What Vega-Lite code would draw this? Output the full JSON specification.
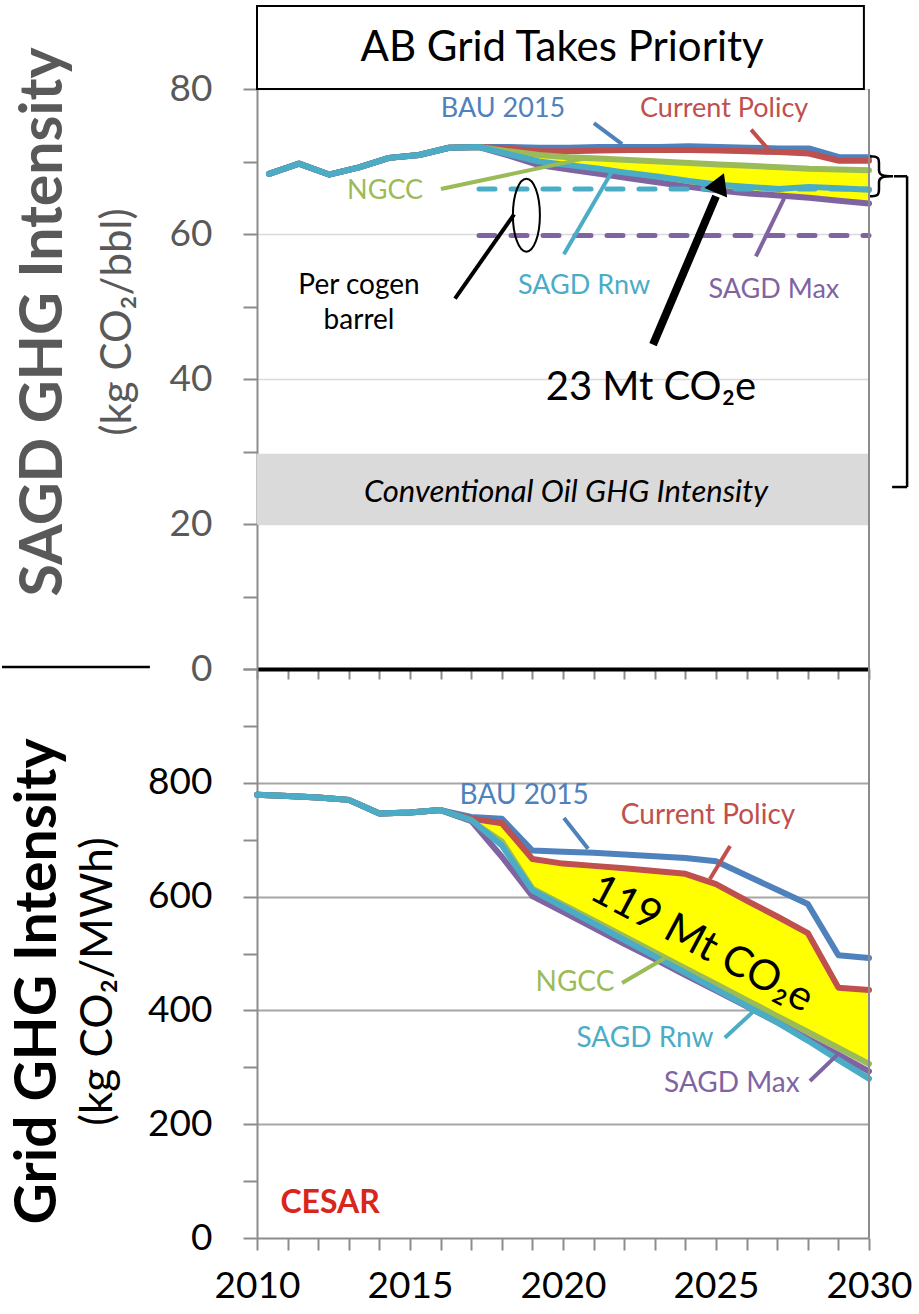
{
  "$schema": "https://vega.github.io/schema/vega-lite/v6.json",
  "background": "white",
  "autosize": {"type": "pad"},
  "padding": {"left": 0, "top": 4, "right": 5, "bottom": 5},
  "config": {"font": "Lato", "view": {"stroke": null}},
  "spacing": 0,
  "bounds": "flush",
  "resolve": {"scale": {"x": "independent", "y": "independent"}},
  "datasets": {
    "sagd": [
      {"year":2010,"scenario":"BAU 2015","value":68.3},{"year":2011,"scenario":"BAU 2015","value":69.7},{"year":2012,"scenario":"BAU 2015","value":68.2},{"year":2013,"scenario":"BAU 2015","value":69.2},{"year":2014,"scenario":"BAU 2015","value":70.5},{"year":2015,"scenario":"BAU 2015","value":70.9},{"year":2016,"scenario":"BAU 2015","value":71.9},{"year":2017,"scenario":"BAU 2015","value":72.0},{"year":2018,"scenario":"BAU 2015","value":72.0},{"year":2019,"scenario":"BAU 2015","value":71.9},{"year":2020,"scenario":"BAU 2015","value":71.9},{"year":2021,"scenario":"BAU 2015","value":72.0},{"year":2022,"scenario":"BAU 2015","value":72.0},{"year":2023,"scenario":"BAU 2015","value":72.0},{"year":2024,"scenario":"BAU 2015","value":72.1},{"year":2025,"scenario":"BAU 2015","value":72.0},{"year":2026,"scenario":"BAU 2015","value":71.9},{"year":2027,"scenario":"BAU 2015","value":71.8},{"year":2028,"scenario":"BAU 2015","value":71.8},{"year":2029,"scenario":"BAU 2015","value":70.6},{"year":2030,"scenario":"BAU 2015","value":70.6},
      {"year":2010,"scenario":"Current Policy","value":68.3},{"year":2011,"scenario":"Current Policy","value":69.7},{"year":2012,"scenario":"Current Policy","value":68.2},{"year":2013,"scenario":"Current Policy","value":69.2},{"year":2014,"scenario":"Current Policy","value":70.5},{"year":2015,"scenario":"Current Policy","value":70.9},{"year":2016,"scenario":"Current Policy","value":71.9},{"year":2017,"scenario":"Current Policy","value":72.0},{"year":2018,"scenario":"Current Policy","value":71.8},{"year":2019,"scenario":"Current Policy","value":71.4},{"year":2020,"scenario":"Current Policy","value":71.4},{"year":2021,"scenario":"Current Policy","value":71.5},{"year":2022,"scenario":"Current Policy","value":71.6},{"year":2023,"scenario":"Current Policy","value":71.6},{"year":2024,"scenario":"Current Policy","value":71.6},{"year":2025,"scenario":"Current Policy","value":71.5},{"year":2026,"scenario":"Current Policy","value":71.4},{"year":2027,"scenario":"Current Policy","value":71.3},{"year":2028,"scenario":"Current Policy","value":71.1},{"year":2029,"scenario":"Current Policy","value":70.1},{"year":2030,"scenario":"Current Policy","value":70.1},
      {"year":2010,"scenario":"NGCC","value":68.3},{"year":2011,"scenario":"NGCC","value":69.7},{"year":2012,"scenario":"NGCC","value":68.2},{"year":2013,"scenario":"NGCC","value":69.2},{"year":2014,"scenario":"NGCC","value":70.5},{"year":2015,"scenario":"NGCC","value":70.9},{"year":2016,"scenario":"NGCC","value":71.9},{"year":2017,"scenario":"NGCC","value":72.0},{"year":2018,"scenario":"NGCC","value":71.4},{"year":2019,"scenario":"NGCC","value":70.9},{"year":2020,"scenario":"NGCC","value":70.6},{"year":2021,"scenario":"NGCC","value":70.4},{"year":2022,"scenario":"NGCC","value":70.2},{"year":2023,"scenario":"NGCC","value":70.0},{"year":2024,"scenario":"NGCC","value":69.8},{"year":2025,"scenario":"NGCC","value":69.6},{"year":2026,"scenario":"NGCC","value":69.4},{"year":2027,"scenario":"NGCC","value":69.2},{"year":2028,"scenario":"NGCC","value":69.0},{"year":2029,"scenario":"NGCC","value":68.9},{"year":2030,"scenario":"NGCC","value":68.8},
      {"year":2010,"scenario":"SAGD Max","value":68.3},{"year":2011,"scenario":"SAGD Max","value":69.7},{"year":2012,"scenario":"SAGD Max","value":68.2},{"year":2013,"scenario":"SAGD Max","value":69.2},{"year":2014,"scenario":"SAGD Max","value":70.5},{"year":2015,"scenario":"SAGD Max","value":70.9},{"year":2016,"scenario":"SAGD Max","value":71.9},{"year":2017,"scenario":"SAGD Max","value":72.0},{"year":2018,"scenario":"SAGD Max","value":70.8},{"year":2019,"scenario":"SAGD Max","value":69.5},{"year":2020,"scenario":"SAGD Max","value":68.9},{"year":2021,"scenario":"SAGD Max","value":68.3},{"year":2022,"scenario":"SAGD Max","value":67.7},{"year":2023,"scenario":"SAGD Max","value":67.1},{"year":2024,"scenario":"SAGD Max","value":66.5},{"year":2025,"scenario":"SAGD Max","value":66.0},{"year":2026,"scenario":"SAGD Max","value":65.6},{"year":2027,"scenario":"SAGD Max","value":65.3},{"year":2028,"scenario":"SAGD Max","value":65.0},{"year":2029,"scenario":"SAGD Max","value":64.6},{"year":2030,"scenario":"SAGD Max","value":64.2},
      {"year":2010,"scenario":"SAGD Rnw","value":68.3},{"year":2011,"scenario":"SAGD Rnw","value":69.7},{"year":2012,"scenario":"SAGD Rnw","value":68.2},{"year":2013,"scenario":"SAGD Rnw","value":69.2},{"year":2014,"scenario":"SAGD Rnw","value":70.5},{"year":2015,"scenario":"SAGD Rnw","value":70.9},{"year":2016,"scenario":"SAGD Rnw","value":71.9},{"year":2017,"scenario":"SAGD Rnw","value":72.0},{"year":2018,"scenario":"SAGD Rnw","value":71.0},{"year":2019,"scenario":"SAGD Rnw","value":70.0},{"year":2020,"scenario":"SAGD Rnw","value":69.5},{"year":2021,"scenario":"SAGD Rnw","value":69.0},{"year":2022,"scenario":"SAGD Rnw","value":68.4},{"year":2023,"scenario":"SAGD Rnw","value":67.9},{"year":2024,"scenario":"SAGD Rnw","value":67.3},{"year":2025,"scenario":"SAGD Rnw","value":66.8},{"year":2026,"scenario":"SAGD Rnw","value":66.5},{"year":2027,"scenario":"SAGD Rnw","value":66.2},{"year":2028,"scenario":"SAGD Rnw","value":66.5},{"year":2029,"scenario":"SAGD Rnw","value":66.3},{"year":2030,"scenario":"SAGD Rnw","value":66.1}
    ],
    "grid": [
      {"year":2010,"scenario":"BAU 2015","value":779},{"year":2011,"scenario":"BAU 2015","value":777},{"year":2012,"scenario":"BAU 2015","value":774},{"year":2013,"scenario":"BAU 2015","value":770},{"year":2014,"scenario":"BAU 2015","value":746},{"year":2015,"scenario":"BAU 2015","value":748},{"year":2016,"scenario":"BAU 2015","value":752},{"year":2017,"scenario":"BAU 2015","value":740},{"year":2018,"scenario":"BAU 2015","value":737},{"year":2019,"scenario":"BAU 2015","value":681},{"year":2020,"scenario":"BAU 2015","value":679},{"year":2021,"scenario":"BAU 2015","value":677},{"year":2022,"scenario":"BAU 2015","value":674},{"year":2023,"scenario":"BAU 2015","value":671},{"year":2024,"scenario":"BAU 2015","value":668},{"year":2025,"scenario":"BAU 2015","value":662},{"year":2026,"scenario":"BAU 2015","value":637},{"year":2027,"scenario":"BAU 2015","value":612},{"year":2028,"scenario":"BAU 2015","value":587},{"year":2029,"scenario":"BAU 2015","value":497},{"year":2030,"scenario":"BAU 2015","value":492},
      {"year":2010,"scenario":"Current Policy","value":779},{"year":2011,"scenario":"Current Policy","value":777},{"year":2012,"scenario":"Current Policy","value":774},{"year":2013,"scenario":"Current Policy","value":770},{"year":2014,"scenario":"Current Policy","value":746},{"year":2015,"scenario":"Current Policy","value":748},{"year":2016,"scenario":"Current Policy","value":752},{"year":2017,"scenario":"Current Policy","value":737},{"year":2018,"scenario":"Current Policy","value":729},{"year":2019,"scenario":"Current Policy","value":666},{"year":2020,"scenario":"Current Policy","value":658},{"year":2021,"scenario":"Current Policy","value":654},{"year":2022,"scenario":"Current Policy","value":650},{"year":2023,"scenario":"Current Policy","value":645},{"year":2024,"scenario":"Current Policy","value":640},{"year":2025,"scenario":"Current Policy","value":622},{"year":2026,"scenario":"Current Policy","value":593},{"year":2027,"scenario":"Current Policy","value":565},{"year":2028,"scenario":"Current Policy","value":536},{"year":2029,"scenario":"Current Policy","value":440},{"year":2030,"scenario":"Current Policy","value":436},
      {"year":2010,"scenario":"NGCC","value":779},{"year":2011,"scenario":"NGCC","value":777},{"year":2012,"scenario":"NGCC","value":774},{"year":2013,"scenario":"NGCC","value":770},{"year":2014,"scenario":"NGCC","value":746},{"year":2015,"scenario":"NGCC","value":748},{"year":2016,"scenario":"NGCC","value":752},{"year":2017,"scenario":"NGCC","value":733},{"year":2018,"scenario":"NGCC","value":697},{"year":2019,"scenario":"NGCC","value":614},{"year":2020,"scenario":"NGCC","value":586},{"year":2021,"scenario":"NGCC","value":558},{"year":2022,"scenario":"NGCC","value":530},{"year":2023,"scenario":"NGCC","value":502},{"year":2024,"scenario":"NGCC","value":474},{"year":2025,"scenario":"NGCC","value":446},{"year":2026,"scenario":"NGCC","value":418},{"year":2027,"scenario":"NGCC","value":390},{"year":2028,"scenario":"NGCC","value":362},{"year":2029,"scenario":"NGCC","value":334},{"year":2030,"scenario":"NGCC","value":306},
      {"year":2010,"scenario":"SAGD Max","value":779},{"year":2011,"scenario":"SAGD Max","value":777},{"year":2012,"scenario":"SAGD Max","value":774},{"year":2013,"scenario":"SAGD Max","value":770},{"year":2014,"scenario":"SAGD Max","value":746},{"year":2015,"scenario":"SAGD Max","value":748},{"year":2016,"scenario":"SAGD Max","value":752},{"year":2017,"scenario":"SAGD Max","value":733},{"year":2018,"scenario":"SAGD Max","value":670},{"year":2019,"scenario":"SAGD Max","value":601},{"year":2020,"scenario":"SAGD Max","value":573},{"year":2021,"scenario":"SAGD Max","value":545},{"year":2022,"scenario":"SAGD Max","value":517},{"year":2023,"scenario":"SAGD Max","value":490},{"year":2024,"scenario":"SAGD Max","value":462},{"year":2025,"scenario":"SAGD Max","value":435},{"year":2026,"scenario":"SAGD Max","value":407},{"year":2027,"scenario":"SAGD Max","value":379},{"year":2028,"scenario":"SAGD Max","value":350},{"year":2029,"scenario":"SAGD Max","value":322},{"year":2030,"scenario":"SAGD Max","value":293},
      {"year":2010,"scenario":"SAGD Rnw","value":779},{"year":2011,"scenario":"SAGD Rnw","value":777},{"year":2012,"scenario":"SAGD Rnw","value":774},{"year":2013,"scenario":"SAGD Rnw","value":770},{"year":2014,"scenario":"SAGD Rnw","value":746},{"year":2015,"scenario":"SAGD Rnw","value":748},{"year":2016,"scenario":"SAGD Rnw","value":752},{"year":2017,"scenario":"SAGD Rnw","value":735},{"year":2018,"scenario":"SAGD Rnw","value":690},{"year":2019,"scenario":"SAGD Rnw","value":611},{"year":2020,"scenario":"SAGD Rnw","value":582},{"year":2021,"scenario":"SAGD Rnw","value":553},{"year":2022,"scenario":"SAGD Rnw","value":524},{"year":2023,"scenario":"SAGD Rnw","value":495},{"year":2024,"scenario":"SAGD Rnw","value":466},{"year":2025,"scenario":"SAGD Rnw","value":437},{"year":2026,"scenario":"SAGD Rnw","value":408},{"year":2027,"scenario":"SAGD Rnw","value":379},{"year":2028,"scenario":"SAGD Rnw","value":347},{"year":2029,"scenario":"SAGD Rnw","value":313},{"year":2030,"scenario":"SAGD Rnw","value":280}
    ],
    "sagdPerCogen": [
      {"scenario":"SAGD Rnw","from":2017,"to":2030,"value":66.2},
      {"scenario":"SAGD Max","from":2017,"to":2030,"value":59.8}
    ],
    "sagdLabels": [
      {"scenario":"BAU 2015","label":"BAU 2015","lx":2017.8,"ly":77.3,"x1":2020.83,"y1":75.3,"x2":2021.77,"y2":72.4},
      {"scenario":"Current Policy","label":"Current Policy","lx":2025.17,"ly":77.3,"x1":2026.07,"y1":74.4,"x2":2026.7,"y2":71.4},
      {"scenario":"NGCC","label":"NGCC","lx":2013.87,"ly":65.9,"x1":2015.73,"y1":66.2,"x2":2020.5,"y2":70.4},
      {"scenario":"SAGD Rnw","label":"SAGD Rnw","lx":2020.5,"ly":52.8,"x1":2021.43,"y1":68.6,"x2":2019.83,"y2":57.2},
      {"scenario":"SAGD Max","label":"SAGD Max","lx":2026.83,"ly":52.3,"x1":2027.17,"y1":64.9,"x2":2026.23,"y2":56.9}
    ],
    "gridLabels": [
      {"scenario":"BAU 2015","label":"BAU 2015","lx":2018.73,"ly":777,"x1":2020.03,"y1":738,"x2":2020.82,"y2":684},
      {"scenario":"Current Policy","label":"Current Policy","lx":2024.74,"ly":742,"x1":2025.46,"y1":689,"x2":2024.8,"y2":631},
      {"scenario":"NGCC","label":"NGCC","lx":2020.39,"ly":448,"x1":2021.93,"y1":448,"x2":2023.33,"y2":492},
      {"scenario":"SAGD Rnw","label":"SAGD Rnw","lx":2022.68,"ly":350,"x1":2025.29,"y1":352,"x2":2026.34,"y2":404},
      {"scenario":"SAGD Max","label":"SAGD Max","lx":2025.52,"ly":271,"x1":2028.07,"y1":276,"x2":2029.02,"y2":325}
    ]
  },
  "vconcat": [
    {
      "width": 612,
      "height": 580,
      "title": {"text": "SAGD GHG Intensity", "subtitle": "(kg CO₂/bbl)", "orient": "left", "anchor": "middle", "frame": "group", "fontSize": 59, "fontWeight": "bold", "color": "#595959", "subtitleFontSize": 42, "subtitleColor": "#595959", "subtitleFont": "Lato", "subtitlePadding": 24, "offset": -138, "dx": 57},
      "layer": [
        {
          "data": {"values": [{"from": 2009.6, "to": 2030, "lo": 19.9, "hi": 29.7}]},
          "mark": {"type": "rect", "fill": "#DADADA"},
          "encoding": {
            "x": {"field": "from", "type": "quantitative", "scale": {"domain": [2009.6, 2030], "nice": false, "zero": false},
              "axis": {"title": null, "labels": false, "values": [2009.6,2010.62,2011.64,2012.66,2013.68,2014.7,2015.72,2016.74,2017.76,2018.78,2019.8,2020.82,2021.84,2022.86,2023.88,2024.9,2025.92,2026.94,2027.96,2028.98,2030], "tickCount": 30, "domainColor": "#000000", "domainWidth": 4, "tickColor": "#8C8C8C", "tickWidth": 2, "tickSize": 10, "grid": false}},
            "x2": {"field": "to"},
            "y": {"field": "lo", "type": "quantitative", "scale": {"domain": [0, 80], "nice": false, "zero": false},
              "axis": {"title": null, "values": [0,10,20,30,40,50,60,70,80], "tickCount": 20, "labelExpr": "datum.value % 20 === 0 ? datum.label : ''", "labelOverlap": false, "labelFontSize": 37, "labelColor": "#595959", "labelPadding": 31, "tickSize": 14, "tickColor": "#8C8C8C", "tickWidth": 2, "domainColor": "#8C8C8C", "domainWidth": 2, "grid": true, "gridColor": "#D9D9D9", "gridWidth": 1.5, "gridOpacity": {"condition": {"test": "datum.value % 20 === 0", "value": 1}, "value": 0}}},
            "y2": {"field": "hi"}
          }
        },
        {
          "data": {"values": [{"from": 2009.6, "to": 2029.83, "lo": 80, "hi": 91.45}]},
          "mark": {"type": "rect", "fill": "white", "stroke": "black", "strokeWidth": 2},
          "encoding": {
            "x": {"field": "from", "type": "quantitative", "axis": {"title": null}},
            "x2": {"field": "to"},
            "y": {"field": "lo", "type": "quantitative", "axis": {"title": null}},
            "y2": {"field": "hi"}
          }
        },
        {
          "data": {"values": [{"t": "AB Grid Takes Priority", "x": 2019.77, "y": 85.7}]},
          "mark": {"type": "text", "fontSize": 42, "color": "black", "align": "center", "baseline": "middle"},
          "encoding": {
            "x": {"field": "x", "type": "quantitative", "axis": {"title": null}},
            "y": {"field": "y", "type": "quantitative", "axis": {"title": null}},
            "text": {"field": "t"}
          }
        },
        {
          "data": {"values": [{"t": "Conventional Oil GHG Intensity", "x": 2019.9, "y": 24.3}]},
          "mark": {"type": "text", "fontSize": 31, "fontStyle": "italic", "color": "black", "align": "center", "baseline": "middle"},
          "encoding": {
            "x": {"field": "x", "type": "quantitative", "axis": {"title": null}},
            "y": {"field": "y", "type": "quantitative", "axis": {"title": null}},
            "text": {"field": "t"}
          }
        },
        {
          "data": {"name": "sagd"},
          "transform": [
            {"filter": "datum.year >= 2017"},
            {"pivot": "scenario", "value": "value", "groupby": ["year"]}
          ],
          "mark": {"type": "area", "color": "#FFFF00", "opacity": 1},
          "encoding": {
            "x": {"field": "year", "type": "quantitative", "axis": {"title": null}},
            "y": {"field": "SAGD Max", "type": "quantitative", "axis": {"title": null}},
            "y2": {"field": "NGCC"}
          }
        },
        {
          "data": {"name": "sagd"},
          "mark": {"type": "line", "strokeWidth": 6, "strokeJoin": "round", "strokeCap": "round"},
          "encoding": {
            "x": {"field": "year", "type": "quantitative", "axis": {"title": null}},
            "y": {"field": "value", "type": "quantitative", "axis": {"title": null}},
            "color": {"field": "scenario", "type": "nominal", "legend": null, "scale": {"domain": ["BAU 2015","Current Policy","NGCC","SAGD Max","SAGD Rnw"], "range": ["#4F81BD","#C0504D","#9BBB59","#8064A2","#4BACC6"]}}
          }
        },
        {
          "data": {"name": "sagdPerCogen"},
          "mark": {"type": "rule", "strokeWidth": 5, "strokeDash": [16, 16], "strokeCap": "round"},
          "encoding": {
            "x": {"field": "from", "type": "quantitative", "axis": {"title": null}},
            "x2": {"field": "to"},
            "y": {"field": "value", "type": "quantitative", "axis": {"title": null}},
            "color": {"field": "scenario", "type": "nominal", "legend": null}
          }
        },
        {
          "data": {"name": "sagdLabels"},
          "mark": {"type": "rule", "strokeWidth": 4},
          "encoding": {
            "x": {"field": "x1", "type": "quantitative", "axis": {"title": null}},
            "y": {"field": "y1", "type": "quantitative", "axis": {"title": null}},
            "x2": {"field": "x2"},
            "y2": {"field": "y2"},
            "color": {"field": "scenario", "type": "nominal", "legend": null}
          }
        },
        {
          "data": {"name": "sagdLabels"},
          "mark": {"type": "text", "fontSize": 27, "align": "center", "baseline": "middle"},
          "encoding": {
            "x": {"field": "lx", "type": "quantitative", "axis": {"title": null}},
            "y": {"field": "ly", "type": "quantitative", "axis": {"title": null}},
            "text": {"field": "label"},
            "color": {"field": "scenario", "type": "nominal", "legend": null}
          }
        },
        {
          "data": {"values": [{"x1": 2016.2, "y1": 51.1, "x2": 2018.17, "y2": 62.7}]},
          "mark": {"type": "rule", "strokeWidth": 4, "color": "black"},
          "encoding": {
            "x": {"field": "x1", "type": "quantitative", "axis": {"title": null}},
            "y": {"field": "y1", "type": "quantitative", "axis": {"title": null}},
            "x2": {"field": "x2"},
            "y2": {"field": "y2"}
          }
        },
        {
          "data": {"values": [{"x1": 2022.8, "y1": 44.75, "x2": 2024.9, "y2": 65.2}]},
          "mark": {"type": "rule", "strokeWidth": 8, "color": "black"},
          "encoding": {
            "x": {"field": "x1", "type": "quantitative", "axis": {"title": null}},
            "y": {"field": "y1", "type": "quantitative", "axis": {"title": null}},
            "x2": {"field": "x2"},
            "y2": {"field": "y2"}
          }
        },
        {
          "data": {"values": [{"x": 2025.03, "y": 67.04}]},
          "mark": {"type": "point", "shape": "triangle-up", "size": 600, "angle": 22.5, "filled": true, "color": "black", "opacity": 1},
          "encoding": {
            "x": {"field": "x", "type": "quantitative", "axis": {"title": null}},
            "y": {"field": "y", "type": "quantitative", "axis": {"title": null}}
          }
        },
        {
          "data": {"values": [{"x": 2018.58, "y": 62.6}]},
          "mark": {"type": "point", "shape": "M-0.37,0A0.37,1,0,1,1,0.37,0A0.37,1,0,1,1,-0.37,0Z", "size": 5329, "filled": false, "stroke": "black", "strokeWidth": 2, "opacity": 1},
          "encoding": {
            "x": {"field": "x", "type": "quantitative", "axis": {"title": null}},
            "y": {"field": "y", "type": "quantitative", "axis": {"title": null}}
          }
        },
        {
          "data": {"values": [{"t": "Per cogen\nbarrel", "x": 2013.0, "y": 52.8}]},
          "mark": {"type": "text", "fontSize": 28, "lineHeight": 35, "lineBreak": "\n", "color": "black", "align": "center", "baseline": "middle"},
          "encoding": {
            "x": {"field": "x", "type": "quantitative", "axis": {"title": null}},
            "y": {"field": "y", "type": "quantitative", "axis": {"title": null}},
            "text": {"field": "t"}
          }
        },
        {
          "data": {"values": [{"t": "23 Mt CO₂e", "x": 2022.73, "y": 38.7}]},
          "mark": {"type": "text", "fontSize": 40, "color": "black", "align": "center", "baseline": "middle"},
          "encoding": {
            "x": {"field": "x", "type": "quantitative", "axis": {"title": null}},
            "y": {"field": "y", "type": "quantitative", "axis": {"title": null}},
            "text": {"field": "t"}
          }
        },
        {
          "data": {"values": [
            {"x1": 2030.83, "y1": 67.96, "x2": 2031.27, "y2": 67.96},
            {"x1": 2031.27, "y1": 67.96, "x2": 2031.27, "y2": 25.1},
            {"x1": 2031.27, "y1": 25.1, "x2": 2030.77, "y2": 25.1},
            {"x1": 2001.1, "y1": 0.28, "x2": 2006.03, "y2": 0.28}
          ]},
          "mark": {"type": "rule", "strokeWidth": 2.5, "color": "black"},
          "encoding": {
            "x": {"field": "x1", "type": "quantitative", "axis": {"title": null}},
            "y": {"field": "y1", "type": "quantitative", "axis": {"title": null}},
            "x2": {"field": "x2"},
            "y2": {"field": "y2"}
          }
        },
        {
          "data": {"values": [{"x": 2030.4, "y": 67.96}]},
          "mark": {"type": "point", "shape": "M-0.6,-1C-0.1,-1,-0.1,-0.9,-0.1,-0.6L-0.1,-0.3C-0.1,-0.05,0.1,0,0.6,0C0.1,0,-0.1,0.05,-0.1,0.3L-0.1,0.6C-0.1,0.9,-0.1,1,-0.6,1", "size": 1600, "filled": false, "stroke": "black", "strokeWidth": 2.5, "opacity": 1},
          "encoding": {
            "x": {"field": "x", "type": "quantitative", "axis": {"title": null}},
            "y": {"field": "y", "type": "quantitative", "axis": {"title": null}}
          }
        },
        {
          "data": {"values": [{"x": 2030, "y1": 0, "y2": 80}]},
          "mark": {"type": "rule", "strokeWidth": 2, "color": "#8C8C8C"},
          "encoding": {
            "x": {"field": "x", "type": "quantitative", "axis": {"title": null}},
            "y": {"field": "y1", "type": "quantitative", "axis": {"title": null}},
            "y2": {"field": "y2"}
          }
        }
      ]
    },
    {
      "width": 612,
      "height": 569,
      "title": {"text": "Grid GHG Intensity", "subtitle": "(kg CO₂/MWh)", "orient": "left", "anchor": "middle", "frame": "group", "fontSize": 57, "fontWeight": "bold", "color": "#000000", "subtitleFontSize": 44, "subtitleColor": "#000000", "subtitleFont": "Lato", "subtitlePadding": 9, "offset": 26, "dx": -28},
      "layer": [
        {
          "data": {"name": "grid"},
          "transform": [
            {"filter": "datum.year >= 2017"},
            {"pivot": "scenario", "value": "value", "groupby": ["year"]}
          ],
          "mark": {"type": "area", "color": "#FFFF00", "opacity": 1},
          "encoding": {
            "x": {"field": "year", "type": "quantitative", "scale": {"domain": [2010, 2030], "nice": false, "zero": false},
              "axis": {"title": null, "values": [2010,2011,2012,2013,2014,2015,2016,2017,2018,2019,2020,2021,2022,2023,2024,2025,2026,2027,2028,2029,2030], "tickCount": 30, "format": "d", "labelExpr": "datum.value % 5 === 0 ? datum.label : ''", "labelOverlap": false, "labelFlush": false, "labelFontSize": 37, "labelColor": "#000000", "labelPadding": 18, "tickSize": 12, "tickColor": "#8C8C8C", "tickWidth": 2, "domainColor": "#8C8C8C", "domainWidth": 2, "grid": false}},
            "y": {"field": "NGCC", "type": "quantitative", "scale": {"domain": [0, 1000], "nice": false, "zero": false},
              "axis": {"title": null, "values": [0,100,200,300,400,500,600,700,800,900,1000], "tickCount": 20, "labelExpr": "datum.value % 200 === 0 && datum.value < 1000 ? datum.label : ''", "labelOverlap": false, "labelFontSize": 37, "labelColor": "#000000", "labelPadding": 31, "tickSize": 14, "tickColor": "#8C8C8C", "tickWidth": 2, "domainColor": "#8C8C8C", "domainWidth": 2, "grid": true, "gridColor": "#A6A6A6", "gridWidth": 2, "gridOpacity": {"condition": {"test": "datum.value % 200 === 0 && datum.value > 0 && datum.value < 1000", "value": 1}, "value": 0}}},
            "y2": {"field": "Current Policy"}
          }
        },
        {
          "data": {"name": "grid"},
          "mark": {"type": "line", "strokeWidth": 6, "strokeJoin": "round", "strokeCap": "round"},
          "encoding": {
            "x": {"field": "year", "type": "quantitative", "axis": {"title": null}},
            "y": {"field": "value", "type": "quantitative", "axis": {"title": null}},
            "color": {"field": "scenario", "type": "nominal", "legend": null, "scale": {"domain": ["BAU 2015","Current Policy","NGCC","SAGD Max","SAGD Rnw"], "range": ["#4F81BD","#C0504D","#9BBB59","#8064A2","#4BACC6"]}}
          }
        },
        {
          "data": {"name": "gridLabels"},
          "mark": {"type": "rule", "strokeWidth": 4},
          "encoding": {
            "x": {"field": "x1", "type": "quantitative", "axis": {"title": null}},
            "y": {"field": "y1", "type": "quantitative", "axis": {"title": null}},
            "x2": {"field": "x2"},
            "y2": {"field": "y2"},
            "color": {"field": "scenario", "type": "nominal", "legend": null}
          }
        },
        {
          "data": {"name": "gridLabels"},
          "mark": {"type": "text", "fontSize": 28, "align": "center", "baseline": "middle"},
          "encoding": {
            "x": {"field": "lx", "type": "quantitative", "axis": {"title": null}},
            "y": {"field": "ly", "type": "quantitative", "axis": {"title": null}},
            "text": {"field": "label"},
            "color": {"field": "scenario", "type": "nominal", "legend": null}
          }
        },
        {
          "data": {"values": [{"t": "119 Mt CO₂e", "x": 2024.54, "y": 517}]},
          "mark": {"type": "text", "fontSize": 42, "angle": 28, "color": "black", "align": "center", "baseline": "middle"},
          "encoding": {
            "x": {"field": "x", "type": "quantitative", "axis": {"title": null}},
            "y": {"field": "y", "type": "quantitative", "axis": {"title": null}},
            "text": {"field": "t"}
          }
        },
        {
          "data": {"values": [{"t": "CESAR", "x": 2012.39, "y": 62}]},
          "mark": {"type": "text", "fontSize": 32, "fontWeight": "bold", "color": "#D9261C", "align": "center", "baseline": "middle"},
          "encoding": {
            "x": {"field": "x", "type": "quantitative", "axis": {"title": null}},
            "y": {"field": "y", "type": "quantitative", "axis": {"title": null}},
            "text": {"field": "t"}
          }
        },
        {
          "data": {"values": [{"x": 2030, "y1": 0, "y2": 1000}]},
          "mark": {"type": "rule", "strokeWidth": 2, "color": "#8C8C8C"},
          "encoding": {
            "x": {"field": "x", "type": "quantitative", "axis": {"title": null}},
            "y": {"field": "y1", "type": "quantitative", "axis": {"title": null}},
            "y2": {"field": "y2"}
          }
        }
      ]
    }
  ]
}
